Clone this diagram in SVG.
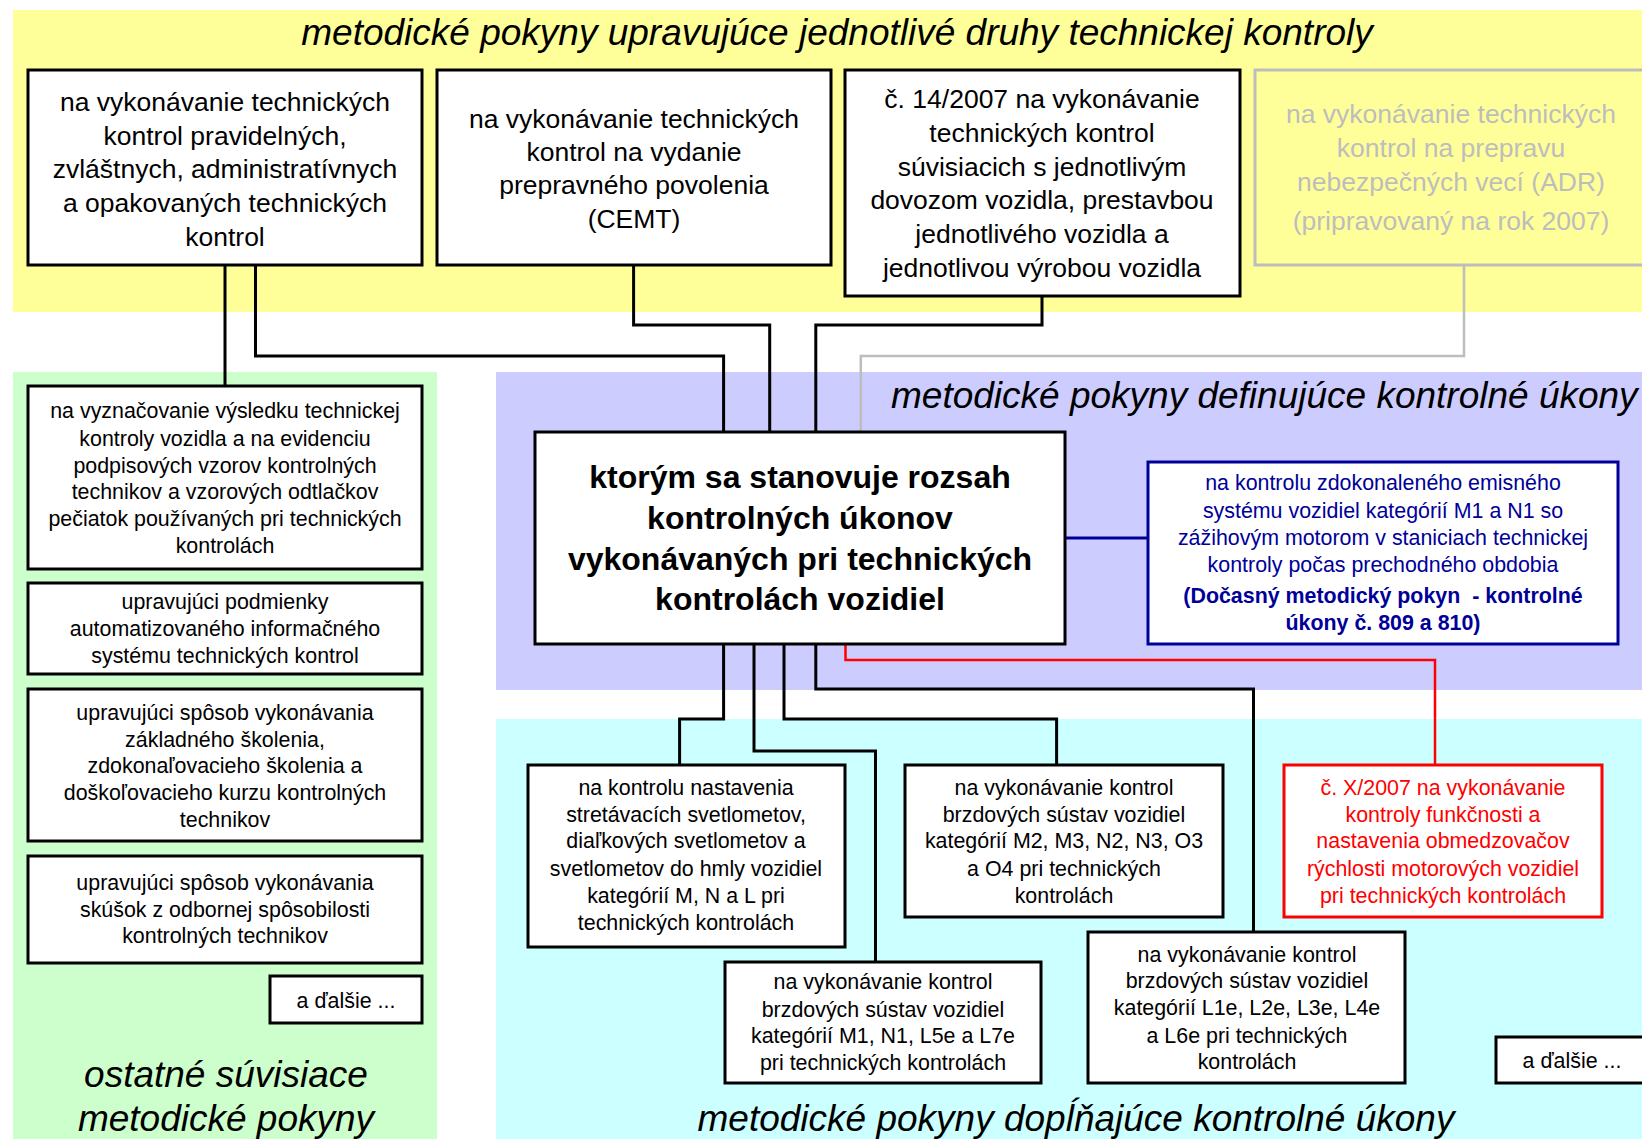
<svg xmlns="http://www.w3.org/2000/svg" width="1642" height="1139" viewBox="0 0 1642 1139">
<style>
text{font-family:"Liberation Sans",Arial,sans-serif;text-anchor:middle;fill:#000}
.t{font-size:37px;font-style:italic}
.big{font-size:26.5px}
.sm{font-size:21.4px}
.b{font-weight:bold}
.ctr{font-size:32px;font-weight:bold}
.box{fill:#fff;stroke:#000;stroke-width:3}
.gray{fill:none;stroke:#BDBDBD;stroke-width:3}
.gt{fill:#BDBDBD}
.blue{fill:#fff;stroke:#000099;stroke-width:3}
.bt{fill:#000099}
.red{fill:#fff;stroke:#FF0000;stroke-width:3}
.rt{fill:#FF0000}
.c{fill:none;stroke:#000;stroke-width:3}
</style>
<rect width="1642" height="1139" fill="#fff"/>
<g id="bands">
<rect x="13" y="10" width="1629" height="302" fill="#FFFF99"/>
<rect x="13" y="372" width="424" height="767" fill="#CCFFCC"/>
<rect x="496" y="372" width="1146" height="318" fill="#CCCCFF"/>
<rect x="496" y="719" width="1146" height="420" fill="#CCFFFF"/>
<text class="t" x="837" y="45">metodické pokyny upravujúce jednotlivé druhy technickej kontroly</text>
<text class="t" x="891" y="408" style="text-anchor:start">metodické pokyny definujúce kontrolné úkony</text>
<text class="t" x="226" y="1087">ostatné súvisiace</text>
<text class="t" x="226" y="1131">metodické pokyny</text>
<text class="t" x="1076" y="1131">metodické pokyny dopĺňajúce kontrolné úkony</text>
</g>
<g id="connectors">
<path class="c" d="M225 265V386"/>
<path class="c" d="M255.5 265V356H723.6V432"/>
<path class="c" d="M633.6 265V325H769.7V432"/>
<path class="c" d="M1042 296V325H815.8V432"/>
<path class="c" d="M723.6 644V719H679.6V765"/>
<path class="c" d="M754 644V751H875.5V962"/>
<path class="c" d="M784 644V719H1056.6V765"/>
<path class="c" d="M815.8 644V689H1253.5V932"/>
<path d="M1464 265V356H860.8V432" fill="none" stroke="#BDBDBD" stroke-width="2.5"/>
<path d="M845.5 644V660H1435V765" fill="none" stroke="#FF0000" stroke-width="2.5"/>
<path d="M1065 538H1148" fill="none" stroke="#000099" stroke-width="3"/>
</g>
<g id="top1">
<rect class="box" x="28" y="70" width="394" height="195"/>
<text class="big" x="225"><tspan x="225" y="111">na vykonávanie technických</tspan><tspan x="225" y="145">kontrol pravidelných,</tspan><tspan x="225" y="178">zvláštnych, administratívnych</tspan><tspan x="225" y="212">a opakovaných technických</tspan><tspan x="225" y="246">kontrol</tspan></text>
</g>
<g id="top2">
<rect class="box" x="437" y="70" width="394" height="195"/>
<text class="big" x="634"><tspan x="634" y="128">na vykonávanie technických</tspan><tspan x="634" y="161">kontrol na vydanie</tspan><tspan x="634" y="194">prepravného povolenia</tspan><tspan x="634" y="228">(CEMT)</tspan></text>
</g>
<g id="top3">
<rect class="box" x="845" y="70" width="395" height="226"/>
<text class="big" x="1042"><tspan x="1042" y="108">č. 14/2007 na vykonávanie</tspan><tspan x="1042" y="142">technických kontrol</tspan><tspan x="1042" y="176">súvisiacich s jednotlivým</tspan><tspan x="1042" y="209">dovozom vozidla, prestavbou</tspan><tspan x="1042" y="243">jednotlivého vozidla a</tspan><tspan x="1042" y="277">jednotlivou výrobou vozidla</tspan></text>
</g>
<g id="top4">
<rect class="gray" x="1255" y="70" width="394" height="195"/>
<text class="big gt" x="1451"><tspan x="1451" y="123">na vykonávanie technických</tspan><tspan x="1451" y="157">kontrol na prepravu</tspan><tspan x="1451" y="191">nebezpečných vecí (ADR)</tspan><tspan x="1451" y="230">(pripravovaný na rok 2007)</tspan></text>
</g>
<g id="center">
<rect class="box" x="535" y="432" width="530" height="212"/>
<text class="ctr" x="800"><tspan x="800" y="488">ktorým sa stanovuje rozsah</tspan><tspan x="800" y="529">kontrolných úkonov</tspan><tspan x="800" y="570">vykonávaných pri technických</tspan><tspan x="800" y="610">kontrolách vozidiel</tspan></text>
</g>
<g id="emis">
<rect class="blue" x="1148" y="462" width="470" height="182"/>
<text class="sm bt" x="1383"><tspan x="1383" y="490">na kontrolu zdokonaleného emisného</tspan><tspan x="1383" y="518">systému vozidiel kategórií M1 a N1 so</tspan><tspan x="1383" y="545">zážihovým motorom v staniciach technickej</tspan><tspan x="1383" y="572">kontroly počas prechodného obdobia</tspan></text>
<text class="sm bt b" x="1383" xml:space="preserve"><tspan x="1383" y="603">(Dočasný metodický pokyn  - kontrolné</tspan><tspan x="1383" y="630">úkony č. 809 a 810)</tspan></text>
</g>
<g id="g1">
<rect class="box" x="28" y="386" width="394" height="183"/>
<text class="sm" x="225"><tspan x="225" y="418">na vyznačovanie výsledku technickej</tspan><tspan x="225" y="446">kontroly vozidla a na evidenciu</tspan><tspan x="225" y="473">podpisových vzorov kontrolných</tspan><tspan x="225" y="499">technikov a vzorových odtlačkov</tspan><tspan x="225" y="526">pečiatok používaných pri technických</tspan><tspan x="225" y="553">kontrolách</tspan></text>
</g>
<g id="g2">
<rect class="box" x="28" y="583" width="394" height="91"/>
<text class="sm" x="225"><tspan x="225" y="609">upravujúci podmienky</tspan><tspan x="225" y="636">automatizovaného informačného</tspan><tspan x="225" y="663">systému technických kontrol</tspan></text>
</g>
<g id="g3">
<rect class="box" x="28" y="689" width="394" height="152"/>
<text class="sm" x="225"><tspan x="225" y="720">upravujúci spôsob vykonávania</tspan><tspan x="225" y="747">základného školenia,</tspan><tspan x="225" y="773">zdokonaľovacieho školenia a</tspan><tspan x="225" y="800">doškoľovacieho kurzu kontrolných</tspan><tspan x="225" y="827">technikov</tspan></text>
</g>
<g id="g4">
<rect class="box" x="28" y="856" width="394" height="107"/>
<text class="sm" x="225"><tspan x="225" y="890">upravujúci spôsob vykonávania</tspan><tspan x="225" y="917">skúšok z odbornej spôsobilosti</tspan><tspan x="225" y="943">kontrolných technikov</tspan></text>
</g>
<g id="g5">
<rect class="box" x="270" y="976" width="152" height="47"/>
<text class="sm" x="346" y="1008">a ďalšie ...</text>
</g>
<g id="c1">
<rect class="box" x="528" y="765" width="317" height="182"/>
<text class="sm" x="686"><tspan x="686" y="795">na kontrolu nastavenia</tspan><tspan x="686" y="822">stretávacích svetlometov,</tspan><tspan x="686" y="848">diaľkových svetlometov a</tspan><tspan x="686" y="876">svetlometov do hmly vozidiel</tspan><tspan x="686" y="903">kategórií M, N a L pri</tspan><tspan x="686" y="930">technických kontrolách</tspan></text>
</g>
<g id="c2">
<rect class="box" x="905" y="765" width="318" height="152"/>
<text class="sm" x="1064"><tspan x="1064" y="795">na vykonávanie kontrol</tspan><tspan x="1064" y="822">brzdových sústav vozidiel</tspan><tspan x="1064" y="848">kategórií M2, M3, N2, N3, O3</tspan><tspan x="1064" y="876">a O4 pri technických</tspan><tspan x="1064" y="903">kontrolách</tspan></text>
</g>
<g id="c3">
<rect class="red" x="1284" y="765" width="318" height="152"/>
<text class="sm rt" x="1443"><tspan x="1443" y="795">č. X/2007 na vykonávanie</tspan><tspan x="1443" y="822">kontroly funkčnosti a</tspan><tspan x="1443" y="848">nastavenia obmedzovačov</tspan><tspan x="1443" y="876">rýchlosti motorových vozidiel</tspan><tspan x="1443" y="903">pri technických kontrolách</tspan></text>
</g>
<g id="c4">
<rect class="box" x="725" y="962" width="316" height="121"/>
<text class="sm" x="883"><tspan x="883" y="989">na vykonávanie kontrol</tspan><tspan x="883" y="1017">brzdových sústav vozidiel</tspan><tspan x="883" y="1043">kategórií M1, N1, L5e a L7e</tspan><tspan x="883" y="1070">pri technických kontrolách</tspan></text>
</g>
<g id="c5">
<rect class="box" x="1088" y="932" width="317" height="151"/>
<text class="sm" x="1247"><tspan x="1247" y="962">na vykonávanie kontrol</tspan><tspan x="1247" y="988">brzdových sústav vozidiel</tspan><tspan x="1247" y="1015">kategórií L1e, L2e, L3e, L4e</tspan><tspan x="1247" y="1043">a L6e pri technických</tspan><tspan x="1247" y="1069">kontrolách</tspan></text>
</g>
<g id="c6">
<rect class="box" x="1496" y="1037" width="152" height="46"/>
<text class="sm" x="1572" y="1068">a ďalšie ...</text>
</g>
</svg>
